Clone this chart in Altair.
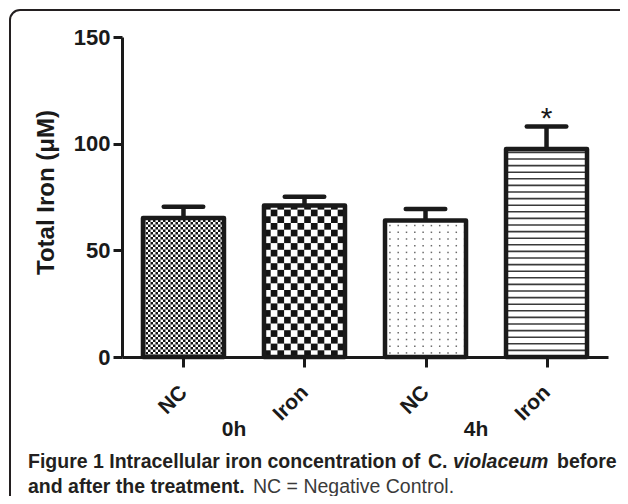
import json
import numpy as np
import pandas as pd
import altair as alt

# ---------------- data ----------------
groups = ["0h", "0h", "4h", "4h"]
treatments = ["NC", "Iron", "NC", "Iron"]
means = [65.2, 71.0, 64.0, 97.5]
sems = [5.2, 4.1, 5.4, 10.5]
sig_marks = ["", "", "", "*"]
patterns = ["fine", "coarse", "dots", "lines"]
y_ticks = [0, 50, 100, 150]
y_title = "Total Iron (μM)"
caption_line1 = ["Figure 1 Intracellular iron concentration of", "C.", "violaceum", "before"]
caption_line2 = ["and after the treatment.", "NC = Negative Control."]

# ---------------- layout ----------------
W, H = 486, 320
XMIN, XMAX = -0.508, 3.508
YMAX = 150
PXX = W / (XMAX - XMIN)   # px per x unit
PXY = H / YMAX            # px per y unit
HW = 40.5 / PXX           # half bar width
CAP = 19.75 / PXX         # half cap width
FONT = "Liberation Sans"
INK = "#1a1a1a"

pos = list(range(len(means)))
df = pd.DataFrame({"pos": pos, "group": groups, "treat": treatments,
                   "mean": means, "sem": sems, "sig": sig_marks, "pattern": patterns})
df["left"] = df["pos"] - HW
df["right"] = df["pos"] + HW
df["upper"] = df["mean"] + df["sem"]
df["capl"] = df["pos"] - CAP
df["capr"] = df["pos"] + CAP
df["zero"] = 0.0

# ---------------- fill textures (style only, clipped to each bar) ----------------
cells = []
lines = []
for i, row in df.iterrows():
    c, v, p = row["pos"], row["mean"], row["pattern"]
    if p in ("fine", "coarse"):
        cp = 2.5 if p == "fine" else 6.7
        cx, cy = cp / PXX, cp / PXY
        nx, ny = int(np.ceil(2 * HW / cx)), int(np.ceil(v / cy))
        for k in range(ny):
            for j in range(nx):
                if (j + k) % 2 == 0:
                    x0 = c - HW + j * cx
                    y0 = k * cy
                    cells.append({"x": x0, "x2": min(x0 + cx, c + HW),
                                  "y": y0, "y2": min(y0 + cy, v), "col": "#141414"})
    elif p == "dots":
        sx, sy, d = 8.3 / PXX, 6.7 / PXY, 1.5
        dx, dy = d / PXX, d / PXY
        k = 0
        while (k + 0.5) * sy < v - sy * 0.3:
            j = 0
            while (j + 0.5) * sx < 2 * HW - sx * 0.2:
                x0 = c - HW + (j + 0.5) * sx
                y0 = (k + 0.5) * sy
                cells.append({"x": x0, "x2": x0 + dx, "y": y0, "y2": y0 + dy, "col": "#6a6a6a"})
                j += 1
            k += 1
    elif p == "lines":
        sy = 6.6 / PXY
        k = 1
        while k * sy < v - sy * 0.4:
            lines.append({"x": c - HW, "x2": c + HW, "y": k * sy})
            k += 1

cells_df = pd.DataFrame(cells)
lines_df = pd.DataFrame(lines)

xscale = alt.Scale(domain=[XMIN, XMAX], nice=False, zero=False)
yscale = alt.Scale(domain=[0, YMAX], nice=False, zero=True)

x_axis = alt.Axis(values=pos, labelExpr=json.dumps(treatments) + "[datum.value]",
                  labelAngle=-45, labelAlign="right", labelBaseline="middle",
                  labelFont=FONT, labelFontSize=21, labelFontWeight="bold", labelColor=INK,
                  labelPadding=22, tickSize=10, tickWidth=3, tickColor=INK,
                  domainWidth=3, domainColor=INK, grid=False, title=None)
y_axis = alt.Axis(values=y_ticks, labelFont=FONT, labelFontSize=22, labelFontWeight="bold",
                  labelColor=INK, labelPadding=3, tickSize=9, tickWidth=3, tickColor=INK,
                  domainWidth=3, domainColor=INK, grid=False,
                  title=y_title, titleFont=FONT, titleFontSize=24, titleFontWeight="bold",
                  titleColor=INK, titleX=-76, titleY=155, titleAlign="center",
                  titleBaseline="middle", titleAngle=-90)

texture = alt.Chart(cells_df).mark_rect(strokeWidth=0).encode(
    x=alt.X("x:Q", scale=xscale, axis=x_axis), x2="x2:Q",
    y=alt.Y("y:Q", scale=yscale, axis=y_axis), y2="y2:Q",
    color=alt.Color("col:N", scale=None))

hlines = alt.Chart(lines_df).mark_rule(color="#3a3a3a", strokeWidth=1.6).encode(
    x="x:Q", x2="x2:Q", y="y:Q")

base = alt.Chart(df)
bars = base.mark_rect(fillOpacity=0, stroke=INK, strokeWidth=4.5, strokeJoin="round").encode(
    x="left:Q", x2="right:Q", y="mean:Q", y2="zero:Q")
stems = base.mark_rule(color=INK, strokeWidth=4.5).encode(x="pos:Q", y="mean:Q", y2="upper:Q")
caps = base.mark_rule(color=INK, strokeWidth=4.5, strokeCap="round").encode(
    x="capl:Q", x2="capr:Q", y="upper:Q")
stars = base.mark_text(font=FONT, fontSize=30, color=INK, baseline="alphabetic", dy=1).encode(
    x="pos:Q", y="upper:Q", text="sig:N")

gdf = df.groupby("group", as_index=False)["pos"].mean()
group_labels = alt.Chart(gdf).mark_text(font=FONT, fontSize=21, fontWeight="bold", color=INK,
                                        baseline="middle", dx=-10).encode(
    x="pos:Q", y=alt.value(393), text="group:N")

one = pd.DataFrame({"k": [0]})


def seg(text, x, y, weight="bold", style="normal", color="#231f20"):
    return alt.Chart(one).mark_text(font=FONT, fontSize=19.5, fontWeight=weight,
                                    fontStyle=style, color=color, align="left",
                                    baseline="alphabetic").encode(
        x=alt.value(x), y=alt.value(y), text=alt.value(text))


caption = [
    seg(caption_line1[0], -94, 431),
    seg(caption_line1[1], 306, 431),
    seg(caption_line1[2], 331, 431, style="italic"),
    seg(caption_line1[3], 435, 431),
    seg(caption_line2[0], -94, 456),
    seg(caption_line2[1], 131, 456, weight="normal", color="#3a3a3a"),
]

frame = alt.Chart(one).mark_rect(fillOpacity=0, stroke="#231f20", strokeWidth=2,
                                 cornerRadius=10).encode(
    x=alt.value(-112), x2=alt.value(W + 60), y=alt.value(-27), y2=alt.value(H + 220))

chart = alt.layer(texture, hlines, bars, stems, caps, stars, group_labels, *caption, frame).properties(
    width=W, height=H,
    autosize=alt.AutoSizeParams(type="none"),
    padding={"left": 114, "top": 29, "right": 12, "bottom": 139},
    background="white",
).configure_view(stroke=None)

chart.save("out.html", embed_options={"renderer": "svg", "actions": False})
